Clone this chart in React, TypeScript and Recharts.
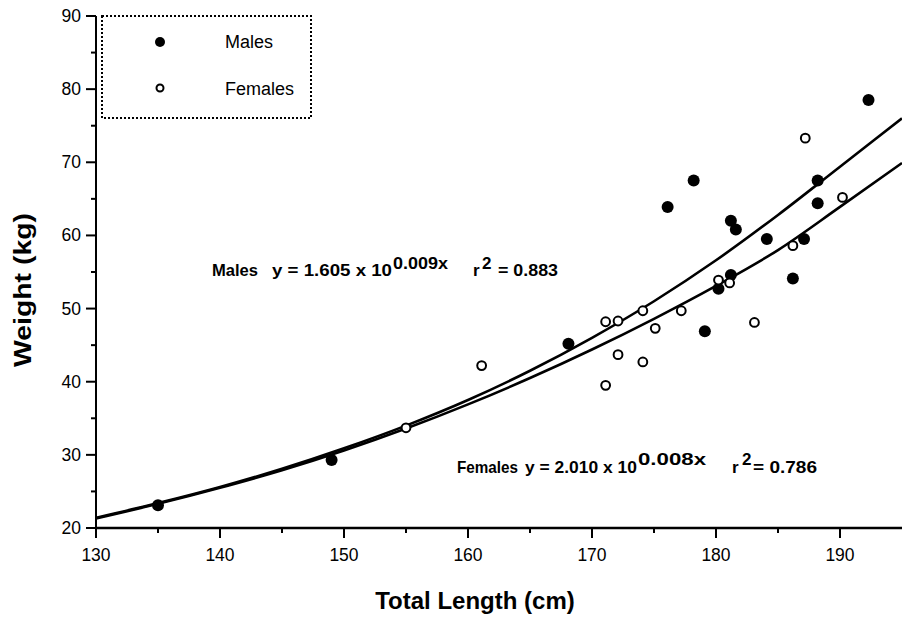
import { ComposedChart, Scatter, Line, XAxis, YAxis } from 'recharts';

const maleLength = [135.0, 149.0, 168.1, 176.1, 178.2, 179.1, 180.2, 181.2, 181.2, 181.6, 184.1, 186.2, 187.1, 188.2, 188.2, 192.3];
const maleWeight = [23.1, 29.3, 45.2, 63.9, 67.5, 46.9, 52.7, 54.6, 62.0, 60.8, 59.5, 54.1, 59.5, 67.5, 64.4, 78.5];

const femaleLength = [155.0, 161.1, 171.1, 171.1, 172.1, 172.1, 174.1, 174.1, 175.1, 177.2, 180.2, 181.1, 183.1, 186.2, 187.2, 190.2];
const femaleWeight = [33.7, 42.2, 48.2, 39.5, 48.3, 43.7, 49.7, 42.7, 47.3, 49.7, 53.9, 53.5, 48.1, 58.6, 73.3, 65.2];

// Fitted curves
const curveLength = [130, 135, 140, 145, 150, 155, 160, 165, 170, 175, 180, 185, 190, 195];
const maleFit = [21.4, 23.4, 25.6, 28.1, 30.9, 34.0, 37.5, 41.5, 46.0, 51.0, 56.6, 62.8, 69.4, 76.0];
const femaleFit = [21.3, 23.3, 25.5, 27.9, 30.6, 33.6, 36.9, 40.5, 44.4, 48.6, 53.1, 58.0, 63.9, 69.9];

const xTicks = [130, 135, 140, 145, 150, 155, 160, 165, 170, 175, 180, 185, 190];
const yTicks = [20, 25, 30, 35, 40, 45, 50, 55, 60, 65, 70, 75, 80, 85, 90];

const FONT = '"Liberation Sans", Arial, Helvetica, sans-serif';

const zip = (xs: number[], ys: number[]) => xs.map((x, i) => ({ x, y: ys[i] }));

const males = zip(maleLength, maleWeight);
const females = zip(femaleLength, femaleWeight);
const maleCurve = zip(curveLength, maleFit);
const femaleCurve = zip(curveLength, femaleFit);

const XTick = (props: any) => {
  const { x, y, payload } = props;
  const major = payload.value % 10 === 0;
  return (
    <g>
      <line x1={x} x2={x} y1={y} y2={y + (major ? 10 : 5)} stroke="#000" strokeWidth={2} />
      {major && (
        <text x={x} y={y + 33} textAnchor="middle" fontSize={17.5} fontFamily={FONT} fill="#000">
          {payload.value}
        </text>
      )}
    </g>
  );
};

const YTick = (props: any) => {
  const { x, y, payload } = props;
  const major = payload.value % 10 === 0;
  return (
    <g>
      <line x1={x - (major ? 10 : 5)} x2={x} y1={y} y2={y} stroke="#000" strokeWidth={2} />
      {major && (
        <text x={x - 15} y={y + 6} textAnchor="end" fontSize={17.5} fontFamily={FONT} fill="#000">
          {payload.value}
        </text>
      )}
    </g>
  );
};

const FilledDot = (props: any) => <circle cx={props.cx} cy={props.cy} r={6} fill="#000" />;
const OpenDot = (props: any) => (
  <circle cx={props.cx} cy={props.cy} r={4.4} fill="#fff" stroke="#000" strokeWidth={2} />
);

export default function App() {
  const bold = { fontFamily: FONT, fontWeight: 700, fontSize: 17, fill: '#000', lengthAdjust: 'spacingAndGlyphs' } as const;
  return (
    <div style={{ position: 'absolute', left: 0, top: 0, width: 905, height: 617, background: '#fff' }}>
      <ComposedChart width={905} height={617} margin={{ top: 16, right: 3, bottom: 0, left: 0 }}>
        <XAxis
          type="number"
          dataKey="x"
          domain={[130, 195]}
          ticks={xTicks}
          interval={0}
          height={89}
          tickSize={0}
          tickMargin={0}
          tick={<XTick />}
          axisLine={{ stroke: '#000', strokeWidth: 2.5 }}
          allowDataOverflow
        />
        <YAxis
          type="number"
          dataKey="y"
          domain={[20, 90]}
          ticks={yTicks}
          interval={0}
          width={96}
          tickSize={0}
          tickMargin={0}
          tick={<YTick />}
          axisLine={{ stroke: '#000', strokeWidth: 2 }}
          allowDataOverflow
        />
        <Line data={maleCurve} dataKey="y" type="monotone" stroke="#000" strokeWidth={2.6} dot={false} isAnimationActive={false} />
        <Line data={femaleCurve} dataKey="y" type="monotone" stroke="#000" strokeWidth={2.6} dot={false} isAnimationActive={false} />
        <Scatter data={males} dataKey="y" shape={<FilledDot />} isAnimationActive={false} />
        <Scatter data={females} dataKey="y" shape={<OpenDot />} isAnimationActive={false} />
      </ComposedChart>

      <svg width={905} height={617} style={{ position: 'absolute', left: 0, top: 0, pointerEvents: 'none' }}>
        {/* legend */}
        <rect x={102} y={16} width={209} height={102} fill="none" stroke="#000" strokeWidth={2} strokeDasharray="2 2" />
        <circle cx={160} cy={42} r={5} fill="#000" />
        <text x={225} y={48} fontSize={18} fontFamily={FONT}>Males</text>
        <circle cx={160} cy={88} r={3.5} fill="#fff" stroke="#000" strokeWidth={2} />
        <text x={225} y={95} fontSize={18} fontFamily={FONT}>Females</text>

        {/* male fit annotation */}
        <text x={212} y={276} {...bold} textLength={46}>Males</text>
        <text x={272} y={276} {...bold} textLength={120}>y = 1.605 x 10</text>
        <text x={393} y={269} {...bold} textLength={55}>0.009x</text>
        <text x={473} y={276} {...bold}>r</text>
        <text x={482} y={269} {...bold}>2</text>
        <text x={498} y={276} {...bold} textLength={60}>= 0.883</text>

        {/* female fit annotation */}
        <text x={457} y={473} {...bold} textLength={61}>Females</text>
        <text x={525} y={473} {...bold} textLength={112}>y = 2.010 x 10</text>
        <text x={638} y={465} {...bold} textLength={68}>0.008x</text>
        <text x={732} y={473} {...bold}>r</text>
        <text x={742} y={465} {...bold}>2</text>
        <text x={753} y={473} {...bold} textLength={64}>= 0.786</text>

        {/* axis titles */}
        <text x={475} y={609} textAnchor="middle" fontSize={24} fontWeight={700} fontFamily={FONT}>
          Total Length (cm)
        </text>
        <text
          transform="translate(31, 290) rotate(-90)"
          textAnchor="middle"
          fontSize={24}
          fontWeight={700}
          fontFamily={FONT}
          textLength={154}
          lengthAdjust="spacingAndGlyphs"
        >
          Weight (kg)
        </text>
      </svg>
    </div>
  );
}
